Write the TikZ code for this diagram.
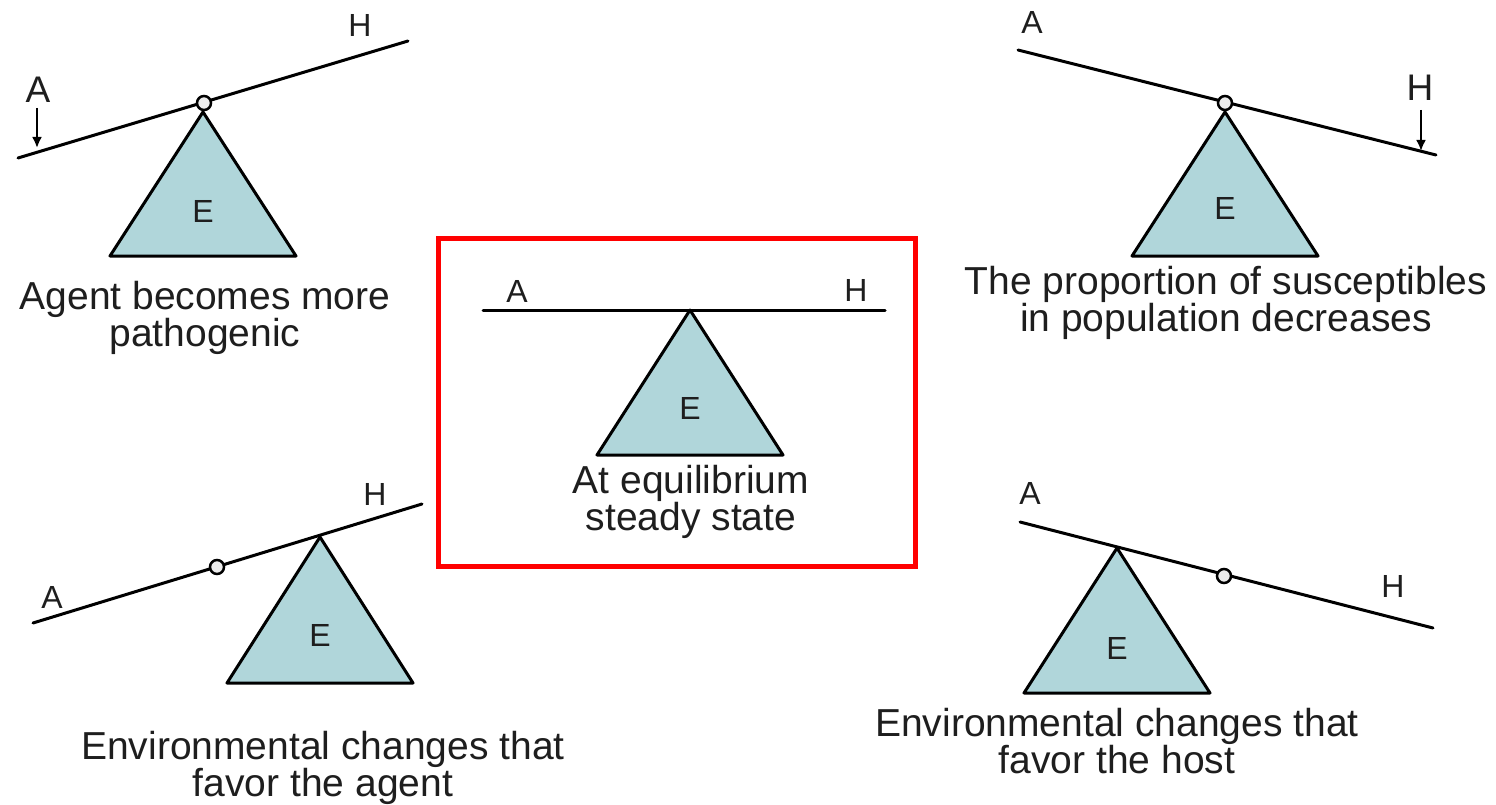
\documentclass[tikz,border=0pt]{standalone}
\usepackage{fontspec}
\setmainfont{Liberation Sans}
\usetikzlibrary{arrows.meta}
\definecolor{wedgefill}{HTML}{B0D6DA}
\definecolor{inkgray}{HTML}{1E1E1E}

\begin{document}
\begin{tikzpicture}[
  x=1pt, y=-1pt,
  beam/.style={line width=3pt, line cap=round},
  wedge/.style={draw, line width=3pt, fill=wedgefill, line join=round},
  pin/.style={circle, draw, line width=2.5pt, fill=gray!15, minimum size=14pt, inner sep=0pt},
  lbl/.style={font=\fontsize{32}{32}\selectfont, text=inkgray, inner sep=0pt},
  biglbl/.style={font=\fontsize{37}{37}\selectfont, text=inkgray, inner sep=0pt},
  caption/.style={font=\fontsize{39}{37}\selectfont, text=inkgray, align=center, inner sep=0pt},
  push/.style={line width=2.5pt, -{Latex[length=11pt, width=10pt]}}
]
  \fill[white] (0,0) rectangle (1496,805);
  \useasboundingbox (0,0) rectangle (1496,805);

  % agent becomes more pathogenic
  \draw[wedge] (203,112) -- (110,256) -- (296,256) -- cycle;
  \coordinate (tlA) at (18,158);
  \coordinate (tlH) at (408,41);
  \draw[beam] (tlA) -- (tlH);
  \node[pin] (tlpin) at (204,103) {};
  \node[lbl] (tlE) at (203,211) {E};
  \node[biglbl] (tla) at (38,90) {A};
  \node[lbl] (tlh) at (360,25) {H};
  \coordinate (tlup) at (37,108);
  \coordinate (tldown) at (37,148);
  \draw[push] (tlup) -- (tldown);
  \node[caption] (tlcap) at (205,318) {Agent becomes more\\pathogenic};

  % susceptibles decrease
  \draw[wedge] (1225,112) -- (1132,256) -- (1318,256) -- cycle;
  \coordinate (trA) at (1018,50);
  \coordinate (trH) at (1436,155);
  \draw[beam] (trA) -- (trH);
  \node[pin] (trpin) at (1225,103) {};
  \node[lbl] (trE) at (1225,208) {E};
  \node[lbl] (tra) at (1032,22) {A};
  \node[biglbl] (trh) at (1420,88) {H};
  \coordinate (trup) at (1421,110);
  \coordinate (trdown) at (1421,151);
  \draw[push] (trup) -- (trdown);
  \node[caption] (trcap) at (1226,303) {The proportion of susceptibles\\in population decreases};

  % equilibrium
  \draw[red, line width=5pt] (438,238) rectangle (915,566);
  \draw[wedge] (690,310) -- (597,455) -- (783,455) -- cycle;
  \coordinate (cA) at (483,310);
  \coordinate (cH) at (885,310);
  \draw[beam] (cA) -- (cH);
  \node[lbl] (cE) at (690,408) {E};
  \node[lbl] (ca) at (517,291) {A};
  \node[lbl] (ch) at (856,290) {H};
  \node[caption] (ccap) at (691,502) {At equilibrium\\steady state};

  % environment favours the agent
  \draw[wedge] (320,537) -- (227,683) -- (413,683) -- cycle;
  \coordinate (blA) at (33,623);
  \coordinate (blH) at (422,504);
  \draw[beam] (blA) -- (blH);
  \node[pin] (blpin) at (217,567) {};
  \node[lbl] (blE) at (320,635) {E};
  \node[lbl] (bla) at (52,597) {A};
  \node[lbl] (blh) at (375,494) {H};
  \node[caption] (blcap) at (323,768) {Environmental changes that\\favor the agent};

  % environment favours the host
  \draw[wedge] (1117,548) -- (1024,693) -- (1210,693) -- cycle;
  \coordinate (brA) at (1020,522);
  \coordinate (brH) at (1433,628);
  \draw[beam] (brA) -- (brH);
  \node[pin] (brpin) at (1224,576) {};
  \node[lbl] (brE) at (1117,648) {E};
  \node[lbl] (bra) at (1030,493) {A};
  \node[lbl] (brh) at (1393,586) {H};
  \node[caption] (brcap) at (1117,741) {Environmental changes that\\favor the host};
\end{tikzpicture}
\end{document}
